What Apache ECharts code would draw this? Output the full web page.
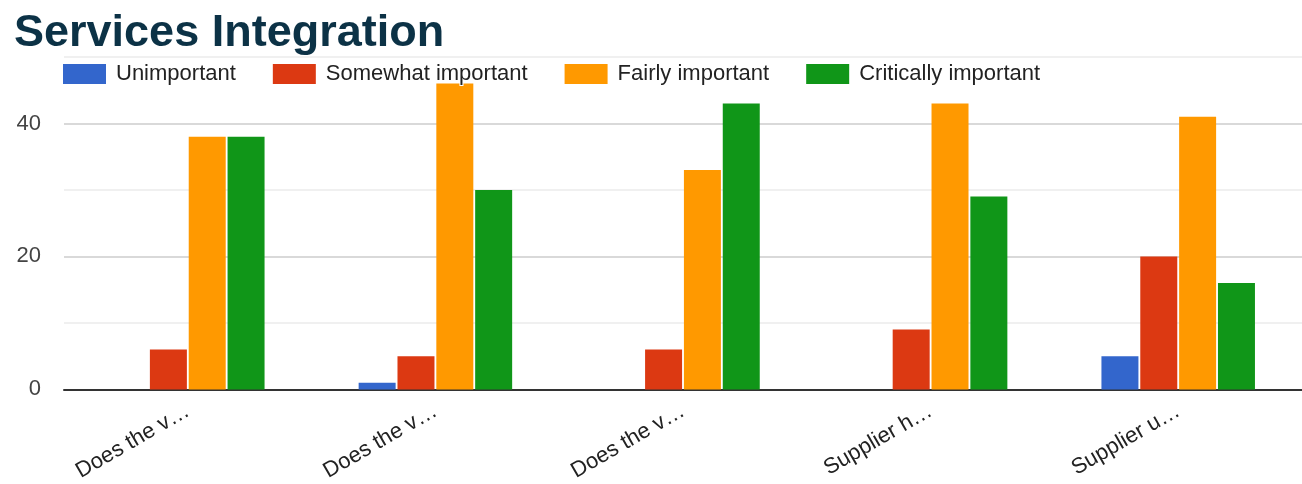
<!DOCTYPE html>
<html>
<head>
<meta charset="utf-8">
<script src="https://cdn.jsdelivr.net/npm/echarts@6/dist/echarts.min.js"></script>
<style>
html,body{margin:0;padding:0;background:#fff;}
#chart{width:1302px;height:484px;}
</style>
</head>
<body>
<div id="chart"></div>
<script>
const chartTitle = "Services Integration";
const categories = ["Does the v…", "Does the v…", "Does the v…", "Supplier h…", "Supplier u…"];
const seriesNames = ["Unimportant", "Somewhat important", "Fairly important", "Critically important"];
const unimportant = [0, 1, 0, 0, 5];
const somewhatImportant = [6, 5, 6, 9, 20];
const fairlyImportant = [38, 46, 33, 43, 41];
const criticallyImportant = [38, 30, 43, 29, 16];
const colors = ["#3366cc", "#dc3912", "#ff9900", "#109618"];
const seriesData = [unimportant, somewhatImportant, fairlyImportant, criticallyImportant];

const chart = echarts.init(document.getElementById('chart'), null, {renderer: 'canvas'});
const font = 'Liberation Sans, Arial, sans-serif';

chart.setOption({
  animation: false,
  backgroundColor: '#ffffff',
  title: {
    text: chartTitle,
    left: 9,
    top: 6,
    textStyle: {fontFamily: font, fontSize: 45, fontWeight: 'bold', color: '#0c3246'}
  },
  legend: {
    data: seriesNames,
    left: 58,
    top: 57,
    icon: 'rect',
    itemWidth: 43,
    itemHeight: 20,
    itemGap: 36,
    textStyle: {fontFamily: font, fontSize: 22, color: '#222222', padding: [0, 0, 0, 5],
      textBorderColor: '#ffffff', textBorderWidth: 2}
  },
  grid: {left: 64, width: 1246, top: 57, bottom: 88, containLabel: false},
  xAxis: {
    type: 'category',
    data: categories,
    axisLine: {show: true, lineStyle: {color: '#333333', width: 2}},
    axisTick: {show: false},
    axisLabel: {rotate: 30, margin: 20, fontFamily: font, fontSize: 22, color: '#222222', interval: 0}
  },
  yAxis: {
    type: 'value',
    min: 0,
    max: 50,
    interval: 10,
    axisLine: {show: false},
    axisTick: {show: false},
    axisLabel: {
      margin: 23,
      fontFamily: font, fontSize: 22, color: '#444444',
      formatter: function (v) { return v % 20 === 0 ? String(v) : ''; }
    },
    splitLine: {show: true, lineStyle: {color: ['#cccccc', '#ebebeb'], width: 1.5}}
  },
  series: seriesNames.map((name, i) => ({
    name: name,
    type: 'bar',
    data: seriesData[i],
    barGap: '5%',
    barCategoryGap: '38%',
    itemStyle: {color: colors[i]}
  }))
});
</script>
</body>
</html>
